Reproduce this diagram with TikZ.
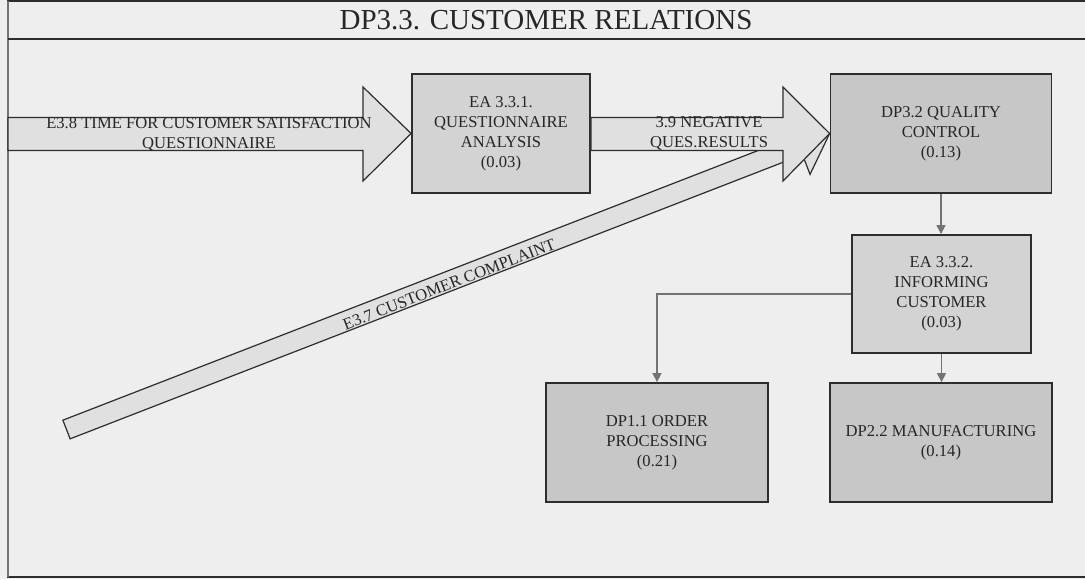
\documentclass[tikz,border=0pt]{standalone}
\usepackage{fontspec}
\setmainfont{Liberation Serif}
\usetikzlibrary{arrows.meta,calc}
\definecolor{pagegray}{RGB}{238,238,238}
\definecolor{boxlight}{RGB}{211,211,211}
\definecolor{boxdark}{RGB}{199,199,199}
\definecolor{flowgray}{RGB}{224,224,224}
\definecolor{edgegray}{RGB}{45,45,45}
\definecolor{linkgray}{RGB}{115,115,115}

\begin{document}
\begin{tikzpicture}[x=0.5pt,y=-0.5pt,
  box/.style={draw=edgegray, line width=0.9pt, align=center, text=black!85,
    minimum height=59.5pt, font=\fontsize{8.3}{10}\selectfont},
  flow/.style={draw=edgegray, line width=0.6pt, fill=flowgray},
  flowtext/.style={align=center, text=black!85, font=\fontsize{8.3}{10}\selectfont},
  link/.style={draw=linkgray, line width=0.6pt, -{Triangle[length=4.5pt,width=4.5pt]}, linkgray}]
\useasboundingbox (0,0) rectangle (1085,579);
\fill[pagegray] (0,0) rectangle (1085,579);

% Frame with title bar
\draw[edgegray, line width=0.8pt] (1085,1) -- (8,1) -- (8,577) -- (1085,577);
\draw[black!55, line width=1.2pt] (8,1) -- (8,577);
\draw[edgegray, line width=0.9pt] (8,39) -- (1085,39);
\node[text=black!85, font=\fontsize{14.5}{16}\selectfont] (title) at (546,20) {DP3.3. CUSTOMER RELATIONS};

% Activity boxes
\node[box, fill=boxlight, minimum width=89pt] (qa) at (501,133.5) {EA 3.3.1.\\QUESTIONNAIRE\\ANALYSIS\\(0.03)};
\node[box, fill=boxdark, minimum width=110.5pt] (qc) at (941,133.5) {DP3.2 QUALITY\\CONTROL\\(0.13)};
\node[box, fill=boxlight, minimum width=89.5pt, minimum height=59pt] (ic) at (941.5,294) {EA 3.3.2.\\INFORMING\\CUSTOMER\\(0.03)};
\node[box, fill=boxdark, minimum width=111pt] (op) at (657,442.5) {DP1.1 ORDER\\PROCESSING\\(0.21)};
\node[box, fill=boxdark, minimum width=111pt] (mf) at (941,442.5) {DP2.2 MANUFACTURING\\(0.14)};

% E3.7 complaint arrow (drawn first, the 3.9 arrow lies over it)
\coordinate (tail) at (66.5,429.5);
\coordinate (back) at ($(qc.west)!16.5pt!(tail)$);
\draw[flow] ($(tail)!5pt!90:(qc.west)$) -- ($(back)!5pt!90:(qc.west)$)
  -- ($(back)!15.5pt!90:(qc.west)$) -- (qc.west)
  -- ($(back)!15.5pt!-90:(qc.west)$) -- ($(back)!5pt!-90:(qc.west)$)
  -- ($(tail)!5pt!-90:(qc.west)$) -- cycle;
\path (tail) -- node[flowtext, sloped, yshift=-1.5pt] (cc) {E3.7 CUSTOMER COMPLAINT} (qc.west);

% E3.8 input arrow
\draw[flow] (8,117.5) -- (363,117.5) -- (363,87) -- (qa.west)
  -- (363,181) -- (363,150.5) -- (8,150.5) -- cycle;
\node[flowtext] (ts) at (209,134) {E3.8 TIME FOR CUSTOMER SATISFACTION\\QUESTIONNAIRE};

% 3.9 result arrow
\draw[flow] (qa.east |- 0,117.5) -- (783,117.5) -- (783,87) -- (qc.west)
  -- (783,181) -- (783,150.5) -- (qa.east |- 0,150.5) -- cycle;
\node[flowtext] (nq) at (709,133) {3.9 NEGATIVE\\QUES.RESULTS};

% Connectors
\draw[link] (qc.south) -- (qc.south |- ic.north);
\draw[link] (ic.west) -| (op.north);
\draw[link] (ic.south) -- (ic.south |- mf.north);
\end{tikzpicture}
\end{document}
